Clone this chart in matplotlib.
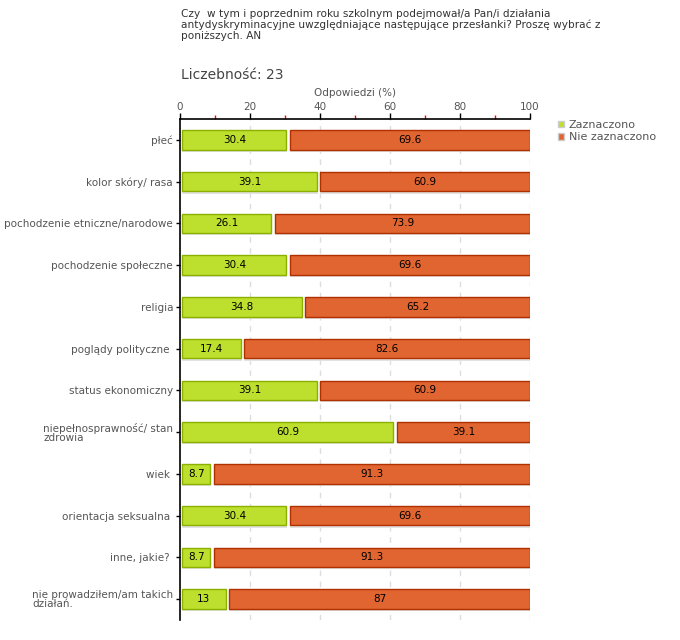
import matplotlib.pyplot as plt
import numpy as np

categories = ["płeć", "kolor skóry/ rasa", "pochodzenie etniczne/narodowe",
              "pochodzenie społeczne", "religia", "poglądy polityczne ",
              "status ekonomiczny", "niepełnosprawność/ stan\nzdrowia",
              "wiek ", "orientacja seksualna ", "inne, jakie? ",
              "nie prowadziłem/am takich\ndziałań."]
zaznaczono = [30.4, 39.1, 26.1, 30.4, 34.8, 17.4, 39.1, 60.9, 8.7, 30.4, 8.7, 13]
nie_zaznaczono = [69.6, 60.9, 73.9, 69.6, 65.2, 82.6, 60.9, 39.1, 91.3, 69.6, 91.3, 87]
series_names = ["Zaznaczono", "Nie zaznaczono"]

green, green_edge = "#bde02e", "#8cb000"
orange, orange_edge = "#e06530", "#b03000"
txt = "#555555"

plt.rcParams['font.family'] = ['DejaVu Sans']

fig = plt.figure(figsize=(6.8, 6.4), dpi=100)
ax = fig.add_axes([180/680, 1-620/640, 350/680, 501/640])

y = np.arange(len(categories))
h = 0.47
zn = np.array(zaznaczono)
nz = np.array(nie_zaznaczono)

# light shadow under each bar
ax.barh(y + 0.05, zn - 0.3, left=0.6, height=h, color="#e2e2e2", zorder=1)
ax.barh(y + 0.05, nz - 0.8, left=zn + 1.0, height=h, color="#e2e2e2", zorder=1)

ax.barh(y, zn - 0.6, left=0.6, height=h, color=green, edgecolor=green_edge,
        linewidth=1, zorder=2, label=series_names[0])
ax.barh(y, nz - 1.0, left=zn + 1.0, height=h, color=orange, edgecolor=orange_edge,
        linewidth=1, zorder=2, label=series_names[1])

for i in range(len(categories)):
    ax.text(zn[i] / 2 + 0.3, y[i], f"{zn[i]:g}", ha="center", va="center",
            fontsize=7.5, color="black", zorder=3)
    ax.text(zn[i] + nz[i] / 2 + 0.5, y[i], f"{nz[i]:g}", ha="center", va="center",
            fontsize=7.5, color="black", zorder=3)

ax.set_xlim(0, 100)
ax.set_ylim(len(categories) - 0.5, -0.5)
ax.xaxis.tick_top()
ax.xaxis.set_label_position("top")
ax.set_xticks([0, 20, 40, 60, 80, 100])
ax.set_xticks([10, 30, 50, 70, 90], minor=True)
ax.tick_params(axis="x", which="major", length=4, width=1, color="black",
               labelsize=7.5, labelcolor=txt, pad=1)
ax.tick_params(axis="x", which="minor", length=3, width=1, color="red")
ax.set_xlabel("Odpowiedzi (%)", fontsize=7.5, color=txt, labelpad=4)

ax.set_yticks(y)
ax.set_yticklabels(categories, fontsize=7.5, color=txt, linespacing=0.9)
for lab in ax.get_yticklabels():
    lab.set_horizontalalignment("right")
    lab.set_multialignment("left")
ax.tick_params(axis="y", length=3, width=1, color="black", pad=2)

for x in [20, 40, 60, 80, 100]:
    ax.axvline(x, color="#dddddd", linestyle=(0, (4, 4)), linewidth=1, zorder=0)

for s in ["right", "bottom"]:
    ax.spines[s].set_visible(False)
ax.spines["top"].set_linewidth(1.2)
ax.spines["left"].set_linewidth(1.2)

fig.text(181/680, 1-9/640,
         "Czy  w tym i poprzednim roku szkolnym podejmował/a Pan/i działania\n"
         "antydyskryminacyjne uwzględniające następujące przesłanki? Proszę wybrać z\n"
         "poniższych. AN",
         fontsize=7.6, color="#333333", va="top", ha="left", linespacing=1.1)
fig.text(181/680, 1-75/640, "Liczebność: 23", fontsize=10, color="#444444",
         va="center", ha="left")

leg = ax.legend(loc="upper left", bbox_to_anchor=(378/350, 1 - 1/501), frameon=False,
                fontsize=8, handlelength=0.55, handleheight=0.55, handletextpad=0.4,
                labelspacing=0.2, borderaxespad=0, borderpad=0)
for t in leg.get_texts():
    t.set_color(txt)
for p in leg.get_patches():
    p.set_edgecolor("#cccccc")

fig.savefig("out.png", dpi=100)
